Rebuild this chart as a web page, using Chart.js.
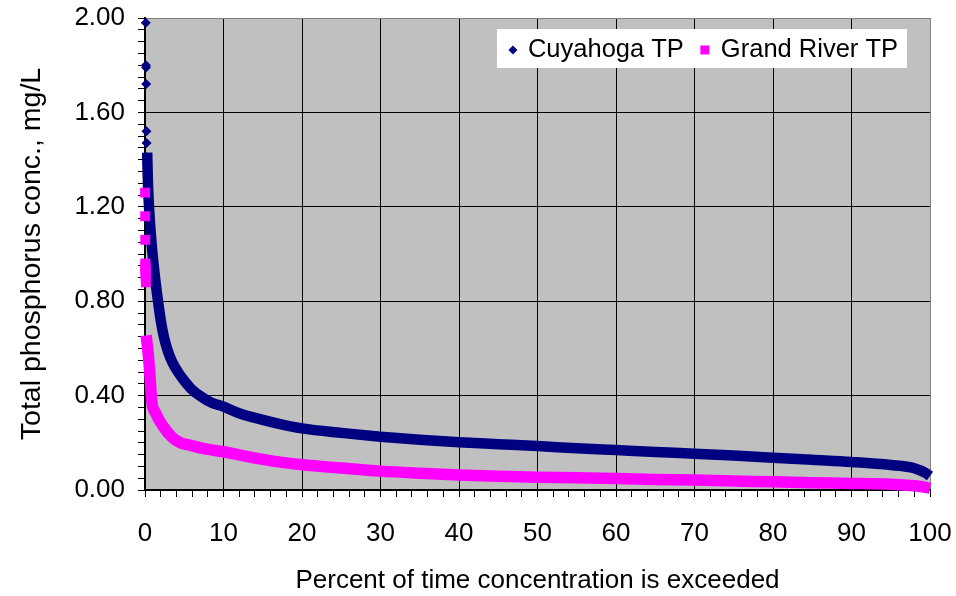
<!DOCTYPE html>
<html><head><meta charset="utf-8">
<script src="https://cdn.jsdelivr.net/npm/chart.js@4/dist/chart.umd.min.js"></script>
<style>html,body{margin:0;padding:0;background:#fff}#wrap{width:956px;height:596px}</style>
</head><body><div id="wrap"><canvas id="c" width="956" height="596"></canvas></div>
<script>
const seriesNames = ['Cuyahoga TP', 'Grand River TP'];
const xTitle = 'Percent of time concentration is exceeded';
const yTitle = 'Total phosphorus conc., mg/L';
const xTickLabels = ['0','10','20','30','40','50','60','70','80','90','100'];
const yTickLabels = ['0.00','0.40','0.80','1.20','1.60','2.00'];

// Cuyahoga: isolated high values (individual diamonds)
const cuyPeakPct = [0.10,0.12,0.13,0.15,0.18,0.20,0.22,0.24];
const cuyPeakTP  = [1.98,1.80,1.79,1.72,1.52,1.47,1.41,1.385];
// Cuyahoga: dense duration curve
const cuyPct = [0.28,0.35,0.45,0.6,0.8,1.05,1.35,1.66,2.0,2.4,2.9,3.5,4.2,5.0,6.0,7.2,8.5,10,12,15,17.5,20,25,30,35,40,45,50,55,60,65,70,75,80,85,90,95,98,99.5,100];
const cuyTP  = [1.43,1.33,1.24,1.15,1.06,0.97,0.88,0.80,0.72,0.65,0.59,0.54,0.50,0.463,0.425,0.395,0.37,0.353,0.325,0.297,0.277,0.261,0.242,0.226,0.213,0.202,0.194,0.186,0.177,0.169,0.161,0.154,0.146,0.137,0.128,0.119,0.106,0.092,0.071,0.059];

// Grand River: isolated high values (individual squares)
const grPeakPct = [0.01,0.02,0.03,0.04,0.05,0.06,0.07,0.08,0.09,0.10,0.11];
const grPeakTP  = [1.26,1.16,1.06,0.96,0.95,0.94,0.93,0.92,0.91,0.90,0.88];
// Grand River: dense duration curve
const grPct = [0.15,0.4,0.6,0.85,1.36,2.3,3.4,4.5,5.7,7.5,10,12.1,15,17.5,20,25,30,35,40,45,50,55,60,65,70,75,80,85,90,95,99,100];
const grTP  = [0.655,0.58,0.50,0.38,0.326,0.27,0.225,0.20,0.19,0.175,0.162,0.148,0.130,0.117,0.107,0.093,0.080,0.071,0.0635,0.058,0.054,0.052,0.049,0.045,0.042,0.038,0.035,0.031,0.028,0.024,0.014,0.007];

const NAVY = '#000080', MAGENTA = '#FF00FF';
const FONT = '"Liberation Sans", Arial, sans-serif';
const toXY = (xs, ys) => xs.map((x, i) => ({x: x, y: ys[i]}));

const plotBg = {
  id: 'plotBg',
  beforeDraw(chart) {
    const {ctx, chartArea: a} = chart;
    ctx.save();
    ctx.fillStyle = '#ffffff';
    ctx.fillRect(0, 0, chart.width, chart.height);
    ctx.fillStyle = '#C0C0C0';
    ctx.fillRect(a.left, a.top, a.right - a.left, a.bottom - a.top);
    ctx.restore();
  }
};

const boxLegend = {
  id: 'boxLegend',
  afterDraw(chart) {
    const {ctx, chartArea: a} = chart;
    ctx.save();
    ctx.font = '25.5px ' + FONT;
    const w1 = ctx.measureText(seriesNames[0]).width;
    const w2 = ctx.measureText(seriesNames[1]).width;
    const bw = 31 + w1 + 37 + w2 + 9;
    const right = a.right - 23, top = a.top + 11, bh = 39;
    const left = right - bw;
    ctx.fillStyle = '#ffffff';
    ctx.fillRect(left, top, bw, bh);
    const cy = top + 21;
    ctx.fillStyle = NAVY;
    ctx.beginPath();
    ctx.moveTo(left + 16 - 4.5, cy); ctx.lineTo(left + 16, cy - 4.5);
    ctx.lineTo(left + 16 + 4.5, cy); ctx.lineTo(left + 16, cy + 4.5);
    ctx.closePath(); ctx.fill();
    ctx.fillStyle = '#000';
    ctx.textBaseline = 'middle';
    ctx.textAlign = 'left';
    ctx.fillText(seriesNames[0], left + 31, cy);
    const sx = left + 31 + w1 + 21;
    ctx.fillStyle = MAGENTA;
    ctx.fillRect(sx - 4.5, cy - 4.5, 9, 9);
    ctx.fillStyle = '#000';
    ctx.fillText(seriesNames[1], sx + 16, cy);
    ctx.restore();
  }
};

new Chart(document.getElementById('c'), {
  type: 'scatter',
  data: {
    datasets: [
      { label: seriesNames[0], data: toXY(cuyPct, cuyTP), showLine: true, borderColor: NAVY, backgroundColor: NAVY,
        borderWidth: 10.5, pointRadius: 0, cubicInterpolationMode: 'monotone', borderCapStyle: 'butt', borderJoinStyle: 'round', order: 4, clip: false },
      { label: seriesNames[0], data: toXY(cuyPeakPct, cuyPeakTP), showLine: false, pointStyle: 'rectRot', pointRadius: 5,
        backgroundColor: NAVY, borderColor: NAVY, borderWidth: 0, order: 3, clip: false },
      { label: seriesNames[1], data: toXY(grPct, grTP), showLine: true, borderColor: MAGENTA, backgroundColor: MAGENTA,
        borderWidth: 11.5, pointRadius: 0, cubicInterpolationMode: 'monotone', borderCapStyle: 'butt', borderJoinStyle: 'round', order: 2, clip: false },
      { label: seriesNames[1], data: toXY(grPeakPct, grPeakTP), showLine: false, pointStyle: 'rect', pointRadius: 7,
        backgroundColor: MAGENTA, borderColor: MAGENTA, borderWidth: 0, order: 1, clip: false }
    ]
  },
  options: {
    responsive: false, animation: false, devicePixelRatio: 1,
    layout: { padding: { top: 18, right: 26, left: 0, bottom: 0 } },
    plugins: { legend: { display: false }, tooltip: { enabled: false } },
    scales: {
      x: {
        type: 'linear', min: 0, max: 100,
        afterFit: s => { s.height = 106; s.paddingRight = 0; s.paddingLeft = 0; },
        ticks: { stepSize: 2, autoSkip: false, maxRotation: 0, color: '#000', padding: 21,
          font: { family: FONT, size: 26 },
          callback: v => (Math.round(v) % 10 === 0 ? xTickLabels[Math.round(v) / 10] : '') },
        grid: { color: c => { const v = Math.round(c.tick.value); return v === 100 ? '#808080' : (v % 10 === 0 ? '#000' : 'rgba(0,0,0,0)'); },
          tickColor: '#000', tickLength: 7, lineWidth: 1 },
        border: { color: '#000', width: 2 },
        title: { display: true, text: xTitle, color: '#000', font: { family: FONT, size: 26 }, padding: { top: 2, bottom: 0 } }
      },
      y: {
        type: 'linear', min: 0, max: 2,
        afterFit: s => { s.width = 145; s.paddingTop = 0; s.paddingBottom = 0; },
        ticks: { stepSize: 0.05, autoSkip: false, color: '#000', padding: 13,
          font: { family: FONT, size: 26 },
          callback: v => { const k = Math.round(v * 100); return k % 40 === 0 ? yTickLabels[k / 40] : ''; } },
        grid: { color: c => { const k = Math.round(c.tick.value * 100); return k === 200 ? '#808080' : (k % 40 === 0 ? '#000' : 'rgba(0,0,0,0)'); },
          tickColor: '#000', tickLength: 7, lineWidth: 1 },
        border: { color: '#000', width: 2 },
        title: { display: true, text: yTitle, color: '#000', font: { family: FONT, size: 28.5 }, padding: { top: 15, bottom: 0 } }
      }
    }
  },
  plugins: [plotBg, boxLegend]
});
</script>
</body></html>
